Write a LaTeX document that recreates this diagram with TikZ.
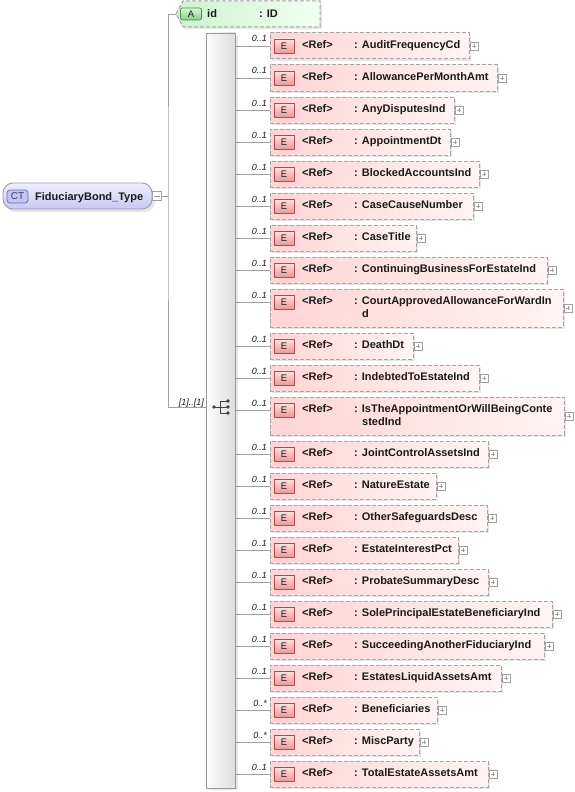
\documentclass[tikz,border=0pt]{standalone}
\usepackage{fontspec}
\setmainfont{Liberation Sans}
\usetikzlibrary{calc}
\definecolor{txt}{HTML}{1A1A1A}
\definecolor{linegray}{HTML}{A0A0A0}
\definecolor{boxborder}{HTML}{A4A4A4}
\definecolor{pinkL}{HTML}{FFD4D4}
\definecolor{pinkR}{HTML}{FFF4F4}
\definecolor{eTop}{HTML}{FFE2E2}
\definecolor{eBot}{HTML}{F09696}
\definecolor{ebord}{HTML}{B04C4C}
\definecolor{shadowc}{HTML}{E6E6E6}
\definecolor{seqL}{HTML}{FCFCFC}
\definecolor{seqR}{HTML}{DEDEDE}
\definecolor{seqborder}{HTML}{9A9A9A}
\definecolor{ctTop}{HTML}{F0F0FF}
\definecolor{ctBot}{HTML}{C8C8F2}
\definecolor{ctborder}{HTML}{9898B8}
\definecolor{ctbfill}{HTML}{C4C4F2}
\definecolor{ctbbord}{HTML}{6A6AB0}
\definecolor{greenL}{HTML}{CDF3CD}
\definecolor{greenR}{HTML}{F2FFF2}
\definecolor{abTop}{HTML}{D8F8D8}
\definecolor{abBot}{HTML}{84CC84}
\definecolor{abbord}{HTML}{4A8A4A}
\definecolor{plusgray}{HTML}{A0A0A0}
\definecolor{icon}{HTML}{404040}
\begin{document}
\begin{tikzpicture}[x=1pt,y=-1pt,
  conn/.style={draw=linegray, line width=0.8pt},
  childbox/.style={draw=boxborder, dash pattern=on 4pt off 2pt, line width=1pt,
    left color=pinkL, right color=pinkR, inner sep=0pt, outer sep=0pt, anchor=north west},
  ebadge/.style={draw=ebord, line width=0.7pt, top color=eTop, bottom color=eBot,
    minimum width=20pt, minimum height=14pt, inner sep=0pt,
    font=\fontsize{9.5}{10}\selectfont, text=txt},
  reftext/.style={anchor=base west, inner sep=0pt, font=\fontsize{11}{12}\selectfont\bfseries, text=txt},
  mult/.style={anchor=base east, inner sep=0pt, font=\fontsize{9}{10}\selectfont\itshape, text=txt},
  plusbox/.style={draw=plusgray, line width=0.6pt, fill=white, minimum size=8pt, inner sep=0pt,
    path picture={
      \draw[plusgray, line width=0.6pt] ($(path picture bounding box.west)+(1.6pt,0)$) -- ($(path picture bounding box.east)+(-1.6pt,0)$);
      \draw[plusgray, line width=0.6pt] ($(path picture bounding box.north)+(0,-1.6pt)$) -- ($(path picture bounding box.south)+(0,1.6pt)$);}},
  minusbox/.style={draw=plusgray, line width=0.6pt, fill=white, minimum size=9pt, inner sep=0pt,
    path picture={
      \draw[plusgray, line width=0.6pt] ($(path picture bounding box.west)+(1.6pt,0)$) -- ($(path picture bounding box.east)+(-1.6pt,0)$);}},
  shadow/.style={fill=shadowc}
]
\useasboundingbox (0,0) rectangle (574,792);

% ---------- root complex type ----------
\fill[shadow, rounded corners=10pt] (5,186) rectangle (155,212);
\node[draw=ctborder, line width=0.8pt, top color=ctTop, bottom color=ctBot, rounded corners=10pt,
  minimum width=149pt, minimum height=26pt, inner sep=0pt] (ct) at (77.5,196) {};
\node[draw=ctbbord, line width=0.7pt, fill=ctbfill, rounded corners=3pt, minimum width=21pt,
  minimum height=13pt, inner sep=0pt, font=\fontsize{10}{10}\selectfont, text=ctbbord!60!black] (ctb) at (17.5,196.5) {CT};
\node[reftext] (ctt) at (35,200) {FiduciaryBond\_Type};
\node[minusbox] (ctm) at (157,196) {};

% ---------- attribute ----------
\node[inner sep=0pt, outer sep=0pt, minimum width=144pt, minimum height=26pt, anchor=west] (anode) at (176,14) {};
\fill[shadow] ($(anode.west)+(2pt,-2pt)$) -- ($(anode.north west)+(9pt,-2pt)$) -- ($(anode.north east)+(2pt,-2pt)$)
  -- ($(anode.south east)+(2pt,-2pt)$) -- ($(anode.south west)+(9pt,-2pt)$) -- cycle;
\path[draw=boxborder, dash pattern=on 4pt off 2pt, line width=1pt, left color=greenL, right color=greenR]
  (anode.west) -- ($(anode.north west)+(7pt,0)$) -- (anode.north east) -- (anode.south east)
  -- ($(anode.south west)+(7pt,0)$) -- cycle;
\node[draw=abbord, line width=0.7pt, top color=abTop, bottom color=abBot, rounded corners=2pt,
  minimum width=21pt, minimum height=12pt, inner sep=0pt, font=\fontsize{9.5}{10}\selectfont, text=txt] (ab) at (191,14) {A};
\node[reftext] (aid) at (207,18) {id};
\node[reftext] (atype) at (259,18) {: ID};

% ---------- sequence compositor ----------
\fill[shadow] (209,36) rectangle (238,790);
\node[draw=seqborder, line width=0.8pt, left color=seqL, right color=seqR, inner sep=0pt, outer sep=0pt,
  minimum width=29pt, minimum height=755pt, anchor=north west] (seq) at (206,33) {};
\coordinate (j) at (168,196);
\coordinate (sqin) at (206,407);
\draw[conn] (ctm.east) -- (j);
\draw[conn] (anode.west) -| (j) |- (sqin);
\node[mult] (seqm) at (204,405) {[1]..[1]};
% sequence icon
\fill[icon] (214,407) circle (1.8);
\draw[icon, line width=0.9pt] (214,407) -- (220,407);
\draw[icon, line width=0.9pt] (220,401) -- (220,413);
\draw[icon, line width=0.9pt] (220,401) -- (228,401) (220,407) -- (228,407) (220,413) -- (228,413);
\fill[icon] (228,401) circle (1.8) (228,407) circle (1.8) (228,413) circle (1.8);

% ---------- children ----------
\foreach \ix/\ty/\rx/\mm/\nm/\scnd/\bh in {
 1/33/469/{0..1}/AuditFrequencyCd/{}/26,
 2/65/497/{0..1}/AllowancePerMonthAmt/{}/26,
 3/97/454/{0..1}/AnyDisputesInd/{}/26,
 4/129/450/{0..1}/AppointmentDt/{}/26,
 5/161/479/{0..1}/BlockedAccountsInd/{}/26,
 6/193/473/{0..1}/CaseCauseNumber/{}/26,
 7/225/416/{0..1}/CaseTitle/{}/26,
 8/257/547/{0..1}/ContinuingBusinessForEstateInd/{}/26,
 9/289/563/{0..1}/CourtApprovedAllowanceForWardIn/d/38,
 10/333/413/{0..1}/DeathDt/{}/26,
 11/365/479/{0..1}/IndebtedToEstateInd/{}/26,
 12/397/564/{0..1}/IsTheAppointmentOrWillBeingConte/stedInd/38,
 13/441/488/{0..1}/JointControlAssetsInd/{}/26,
 14/473/436/{0..1}/NatureEstate/{}/26,
 15/505/487/{0..1}/OtherSafeguardsDesc/{}/26,
 16/537/458/{0..1}/EstateInterestPct/{}/26,
 17/569/488/{0..1}/ProbateSummaryDesc/{}/26,
 18/601/552/{0..1}/SolePrincipalEstateBeneficiaryInd/{}/26,
 19/633/544/{0..1}/SucceedingAnotherFiduciaryInd/{}/26,
 20/665/501/{0..1}/EstatesLiquidAssetsAmt/{}/26,
 21/697/437/{0..*}/Beneficiaries/{}/26,
 22/729/419/{0..*}/MiscParty/{}/26,
 23/761/488/{0..1}/TotalEstateAssetsAmt/{}/26}
{
  \pgfmathsetmacro\bw{\rx-270}
  \fill[shadow] (272,\ty+2) rectangle (\rx+2,\ty+\bh+2);
  \node[childbox, minimum width=\bw pt, minimum height=\bh pt] (c\ix) at (270,\ty) {};
  \node[ebadge] (e\ix) at (284,\ty+13) {E};
  \node[reftext] (r\ix) at (302,\ty+15.5) {<Ref>};
  \node[reftext] (n\ix) at (354,\ty+15.5) {: \nm};
  \node[reftext] (s\ix) at (362,\ty+28) {\scnd};
  \node[plusbox] (p\ix) at (\rx+5,\ty+\bh/2) {};
  \node[mult] (m\ix) at (267,\ty+9) {\mm};
  \draw[conn] (seq.east |- e\ix.center) -- (c\ix.west |- e\ix.center);
}
\end{tikzpicture}
\end{document}
